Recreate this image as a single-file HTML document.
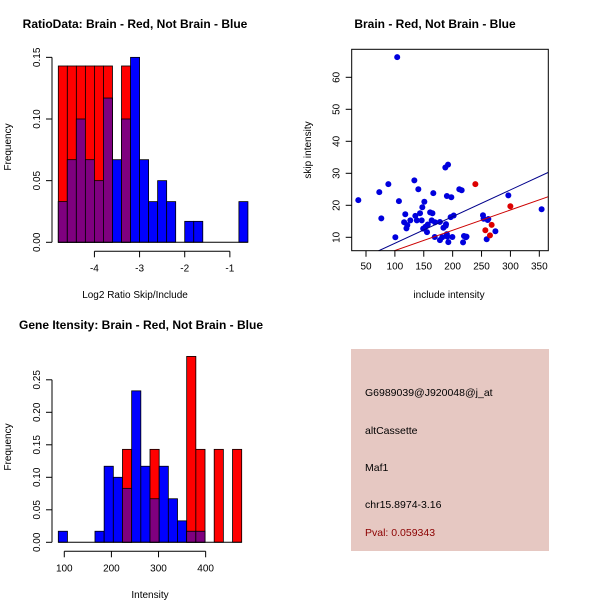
<!DOCTYPE html>
<html><head><meta charset="utf-8"><style>
body{margin:0;background:#fff}
svg{display:block;font-family:"Liberation Sans",sans-serif}
</style></head><body>
<svg id="s" width="600" height="600" viewBox="0 0 600 600">
<rect width="600" height="600" fill="#fff"/>
<g id="tl"></g>
<g id="tr"></g>
<g id="bl"></g>
<g font-size="10.5">
<rect x="351" y="349" width="198" height="202" fill="#e6c8c2"/>
<text x="365" y="396">G6989039@J920048@j_at</text>
<text x="365" y="434">altCassette</text>
<text x="365" y="471">Maf1</text>
<text x="365" y="508">chr15.8974-3.16</text>
<text x="365" y="536" fill="#8b0000">Pval: 0.059343</text>
</g>
</svg>
<script>
// Top-left histogram data
const ratioBinStart = -4.8, ratioBinWidth = 0.2;
const ratioBlue = [0.033,0.067,0.1,0.067,0.05,0.117,0.067,0.1,0.15,0.067,0.033,0.05,0.033,0,0.017,0.017,0,0,0,0,0.033];
const ratioRed  = [0.143,0.143,0.143,0.143,0.143,0.143,0,0.143,0,0,0,0,0,0,0,0,0,0,0,0,0];
const ratioXTicks = [-4,-3,-2,-1];
const ratioYTicks = [0,0.05,0.1,0.15];
// Bottom-left histogram data
const geneBinStart = 87.3, geneBinWidth = 19.46;
const geneBlue = [0.017,0,0,0,0.017,0.117,0.1,0.083,0.233,0.117,0.067,0.117,0.067,0.033,0.017,0.017,0,0,0,0];
const geneRed  = [0,0,0,0,0,0,0,0.143,0,0,0.143,0,0,0,0.286,0.143,0,0.143,0,0.143];
const geneXTicks = [100,200,300,400];
const geneYTicks = [0,0.05,0.1,0.15,0.2,0.25];
// Scatter data
const blueX = [36.7,73,76.5,88.7,100.8,104,107,118,116,120,121.5,126.7,133.7,135.4,138,140.6,143.5,146.4,147.5,149,151,153,155.6,157,161,163.7,165,166.5,169,169.4,178,178,182,184,187.3,188,188.5,190,190.8,192,192.5,190,196.5,197.7,201.8,199.5,211.5,215.6,218,219.6,223,224,252.5,253.6,258.9,260.6,261.8,274,296.4,354];
const blueY = [21.6,24.1,15.9,26.6,10,66.3,21.3,17.2,14.7,12.8,13.8,15.3,27.8,16.7,15.3,25,17.5,15.3,19.4,12.7,21.1,13.3,11.6,14,17.8,15.3,17.5,23.8,10.1,14.7,14.8,9.1,10,13,31.8,13.6,14.1,22.9,10.2,32.7,8.5,11,16.3,22.5,16.8,10.1,25,24.7,8.4,10.4,10,10.2,16.9,15.8,9.4,15.4,15.7,11.9,23.1,18.75];
const redX = [239.3,256.6,267.5,264.6,299.9];
const redY = [26.6,12.2,13.9,10.6,19.7];
const blueFit = [-0.2,0.0834];
const redFit = [-0.48,0.0634];
const scatXTicks = [50,100,150,200,250,300,350];
const scatYTicks = [10,20,30,40,50,60];

const NS='http://www.w3.org/2000/svg';
function mk(p,tag,a){const e=document.createElementNS(NS,tag);for(const k in a)e.setAttribute(k,a[k]);p.appendChild(e);return e;}
function txt(p,x,y,s,a){const e=mk(p,'text',Object.assign({x:x,y:y,'font-size':10,'text-anchor':'middle'},a||{}));e.textContent=s;return e;}

function hist(g,o){
  const n=o.blue.length;
  const px0=o.px0, pw=o.pw; // px per bin
  const xs=v=>px0+(v-o.start)/o.width*pw;
  const ys=v=>o.y0-v*o.ypx;
  for(let i=0;i<n;i++){
    const b=o.blue[i], r=o.red[i], x=xs(o.start+i*o.width), m=Math.min(b,r);
    if(b>0){const e=mk(g,'rect',{x:x,y:ys(b),width:pw,height:b*o.ypx,fill:'#0000ff',stroke:'#000','stroke-width':0.8});
      }
    if(r>0){const e=mk(g,'rect',{x:x,y:ys(r),width:pw,height:r*o.ypx,fill:'#ff0000',stroke:'#000','stroke-width':0.8});
      }
    if(m>0){const e=mk(g,'rect',{x:x,y:ys(m),width:pw,height:m*o.ypx,fill:'#7f007f',stroke:'#000','stroke-width':0.8});
      }
  }
  // y axis
  const ax=mk(g,'g',{stroke:'#000','stroke-width':1,fill:'none'});
  
  const yt=o.yticks;
  mk(ax,'line',{x1:o.yax,x2:o.yax,y1:ys(yt[0]),y2:ys(yt[yt.length-1])});
  yt.forEach(v=>{mk(ax,'line',{x1:o.yax,x2:o.yax-6,y1:ys(v),y2:ys(v)});
    const t=txt(g,o.yax-12,ys(v),v.toFixed(2),{transform:`rotate(-90 ${o.yax-12} ${ys(v)})`});
    });
  // baseline
  mk(g,'line',{x1:o.px0,x2:o.px0+n*pw,y1:o.y0,y2:o.y0,stroke:'#000','stroke-width':1});
  // x axis
  const xa=mk(g,'g',{stroke:'#000','stroke-width':1});
  
  const xt=o.xticks, xay=o.y0+9;
  mk(xa,'line',{x1:xs(xt[0]),x2:xs(xt[xt.length-1]),y1:xay,y2:xay});
  xt.forEach(v=>{mk(xa,'line',{x1:xs(v),x2:xs(v),y1:xay,y2:xay+6});
    const t=txt(g,xs(v),xay+20,String(v));});
}

const tl=document.getElementById('tl');
hist(tl,{blue:ratioBlue,red:ratioRed,start:ratioBinStart,width:ratioBinWidth,px0:58.3,pw:9.03,y0:242.3,ypx:1233,yax:52,yticks:ratioYTicks,xticks:ratioXTicks});
let t=txt(tl,135,28,'RatioData: Brain - Red, Not Brain - Blue',{'font-weight':'bold','font-size':12});
t=txt(tl,135,298,'Log2 Ratio Skip/Include');
t=txt(tl,11,147,'Frequency',{transform:'rotate(-90 11 147)'});

const bl=document.getElementById('bl');
hist(bl,{blue:geneBlue,red:geneRed,start:geneBinStart,width:geneBinWidth,px0:58.3,pw:9.17,y0:542.3,ypx:650,yax:52,yticks:geneYTicks,xticks:geneXTicks});
t=txt(bl,141,329,'Gene Itensity: Brain - Red, Not Brain - Blue',{'font-weight':'bold','font-size':12});
t=txt(bl,150,598,'Intensity');
t=txt(bl,11,447,'Frequency',{transform:'rotate(-90 11 447)'});

// scatter
const tr=document.getElementById('tr');
const L=351.7,R=548.3,T=49.3,B=250.7;
const sx=v=>366+(v-50)*0.5777, sy=v=>237.3-(v-10)*3.2;
const defs=mk(tr,'defs',{});const cp=mk(defs,'clipPath',{id:'cp'});mk(cp,'rect',{x:L,y:T,width:R-L,height:B-T});
const pts=mk(tr,'g',{'clip-path':'url(#cp)'});
function fitLine(f,col,name){const x0=(L-366)/0.5777+50,x1=(R-366)/0.5777+50;
  const e=mk(pts,'line',{x1:sx(x0),y1:sy(f[0]+f[1]*x0),x2:sx(x1),y2:sy(f[0]+f[1]*x1),stroke:col,'stroke-width':1});
  }
blueX.forEach((x,i)=>{const c=mk(pts,'circle',{cx:sx(x),cy:sy(blueY[i]),r:3,fill:'#0000dd'});
  });
redX.forEach((x,i)=>{const c=mk(pts,'circle',{cx:sx(x),cy:sy(redY[i]),r:3,fill:'#dd0000'});
  });
fitLine(blueFit,'#00008b','blue-fit-line');
fitLine(redFit,'#cc0000','red-fit-line');
const box=mk(tr,'rect',{x:L,y:T,width:R-L,height:B-T,fill:'none',stroke:'#000','stroke-width':1});

const sa=mk(tr,'g',{stroke:'#000'});
scatXTicks.forEach(v=>{mk(sa,'line',{x1:sx(v),x2:sx(v),y1:B,y2:B+6});
  const e=txt(tr,sx(v),B+19,String(v));});
scatYTicks.forEach(v=>{mk(sa,'line',{x1:L,x2:L-6,y1:sy(v),y2:sy(v)});
  const e=txt(tr,L-12,sy(v),String(v),{transform:`rotate(-90 ${L-12} ${sy(v)})`});});
t=txt(tr,435,28,'Brain - Red, Not Brain - Blue',{'font-weight':'bold','font-size':12});
t=txt(tr,449,298,'include intensity');
t=txt(tr,311,150,'skip intensity',{transform:'rotate(-90 311 150)'});
</script>
</body></html>
